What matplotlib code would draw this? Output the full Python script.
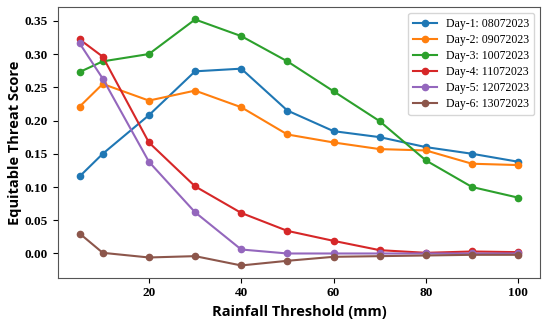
import matplotlib
matplotlib.use("Agg")
import matplotlib.pyplot as plt

thresholds = [5, 10, 20, 30, 40, 50, 60, 70, 80, 90, 100]
labels = ["Day-1: 08072023", "Day-2: 09072023", "Day-3: 10072023",
          "Day-4: 11072023", "Day-5: 12072023", "Day-6: 13072023"]

day1 = [0.116, 0.150, 0.208, 0.274, 0.278, 0.215, 0.184, 0.175, 0.160, 0.150, 0.138]
day2 = [0.221, 0.255, 0.230, 0.245, 0.220, 0.179, 0.167, 0.157, 0.155, 0.135, 0.133]
day3 = [0.273, 0.289, 0.300, 0.352, 0.327, 0.289, 0.244, 0.199, 0.140, 0.100, 0.084]
day4 = [0.322, 0.296, 0.167, 0.101, 0.061, 0.034, 0.019, 0.005, 0.001, 0.003, 0.002]
day5 = [0.316, 0.263, 0.138, 0.062, 0.006, 0.000, 0.000, 0.000, 0.000, 0.000, 0.000]
day6 = [0.030, 0.001, -0.006, -0.004, -0.018, -0.011, -0.005, -0.004, -0.003, -0.002, -0.002]

fig, ax = plt.subplots(figsize=(5.5, 3.26), dpi=100)
fig.subplots_adjust(left=0.105, right=0.982, top=0.978, bottom=0.148)

for vals, lab in zip([day1, day2, day3, day4, day5, day6], labels):
    ax.plot(thresholds, vals, marker="o", markersize=4.5, linewidth=1.5, label=lab)

ax.set_xticks([20, 40, 60, 80, 100])
ax.set_yticks([0.0, 0.05, 0.10, 0.15, 0.20, 0.25, 0.30, 0.35])
ax.set_yticklabels(["%.2f" % v for v in ax.get_yticks()])
for t in ax.get_xticklabels() + ax.get_yticklabels():
    t.set_fontfamily("Liberation Serif")
    t.set_fontweight("bold")
    t.set_fontsize(9.5)

ax.set_xlabel("Rainfall Threshold (mm)", fontfamily="Open Sans", fontweight="bold", fontsize=10.5)
ax.set_ylabel("Equitable Threat Score", fontfamily="Open Sans", fontweight="bold", fontsize=10.5,
              labelpad=2)

for s in ax.spines.values():
    s.set_color("#555555")

ax.legend(loc="upper right", prop={"family": "Liberation Serif", "size": 8.5},
          labelspacing=0.35)

fig.savefig("out.png")
